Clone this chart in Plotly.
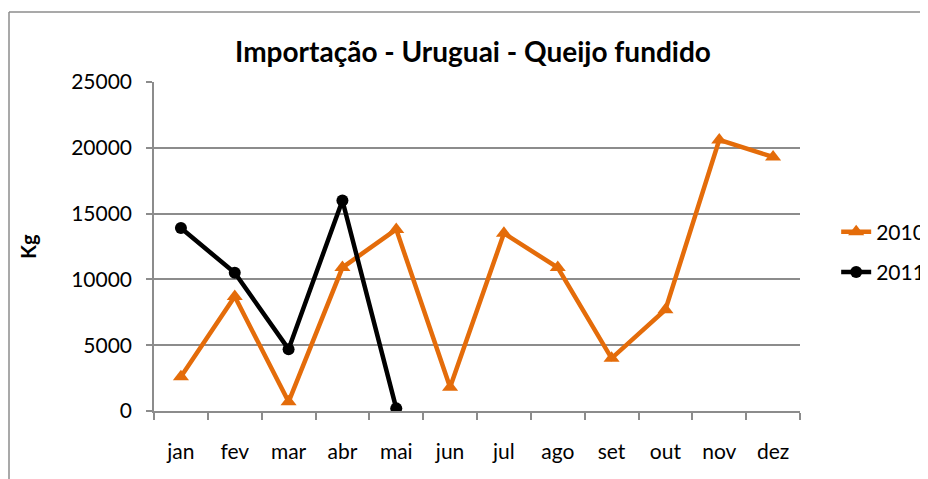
import plotly.graph_objects as go

months = ["jan", "fev", "mar", "abr", "mai", "jun", "jul", "ago", "set", "out", "nov", "dez"]
values_2010 = [2600, 8700, 700, 10900, 13800, 1800, 13500, 10900, 4000, 7700, 20600, 19300]
months_2011 = ["jan", "fev", "mar", "abr", "mai"]
values_2011 = [13900, 10500, 4700, 16000, 200]
y_ticks = [0, 5000, 10000, 15000, 20000, 25000]

FONT = "Lato, 'Open Sans', sans-serif"
GRID = "#8c8c8c"

fig = go.Figure()
fig.add_trace(go.Scatter(
    x=months, y=values_2010, name="2010", mode="lines+markers",
    line=dict(color="#E46C0A", width=4.5),
    marker=dict(symbol="triangle-up", size=14, color="#E46C0A"),
    legendgroup="a",
))
fig.add_trace(go.Scatter(
    x=months_2011, y=values_2011, name="2011", mode="lines+markers",
    line=dict(color="#000000", width=4.5),
    marker=dict(symbol="circle", size=12, color="#000000"),
    legendgroup="b",
))

W, H = 920, 471
L, T, PW, PH = 146, 74, 646, 329
fig.update_layout(
    width=W, height=H,
    margin=dict(l=L, r=W - L - PW, t=T, b=H - T - PH, autoexpand=False),
    paper_bgcolor="white", plot_bgcolor="white",
    font=dict(family=FONT, size=21, color="#000000"),
    title=dict(text="<b>Importação - Uruguai - Queijo fundido</b>",
               x=(465 / W), xanchor="center", y=1 - 44 / H, yanchor="middle",
               font=dict(size=28, family=FONT)),
    legend=dict(x=1.056, y=(T + PH - 244) / PH, xanchor="left", yanchor="middle",
                font=dict(size=21), tracegroupgap=10,
                traceorder="grouped", bgcolor="rgba(0,0,0,0)"),
    showlegend=True,
)
fig.update_xaxes(
    type="category", categoryorder="array", categoryarray=months,
    range=[-0.5, 11.5], showgrid=False, automargin=False,
    showline=True, linecolor=GRID, linewidth=1.5,
    ticks="outside", tickson="boundaries", ticklen=7, tickcolor=GRID, tickwidth=1.5,
    ticklabelstandoff=21,
    tickfont=dict(size=21),
)
fig.update_yaxes(
    range=[0, 25000], tickvals=y_ticks, ticktext=[str(v) for v in y_ticks],
    showgrid=True, gridcolor=GRID, gridwidth=1.5, automargin=False,
    showline=True, linecolor=GRID, linewidth=1.5,
    ticks="outside", ticklen=6, tickcolor=GRID, tickwidth=1.5,
    ticklabelstandoff=10, zeroline=False,
    tickfont=dict(size=21),
    title=dict(text="<b>Kg</b>", standoff=29, font=dict(size=20)),
)
# outer chart border (top and left edges; the rest lies outside the picture)
bx0 = (1 - L) / PW
by1 = (T + PH - 4) / PH
fig.add_shape(type="line", xref="paper", yref="paper",
              x0=bx0, x1=(W + 20 - L) / PW, y0=by1, y1=by1,
              line=dict(color=GRID, width=1.5), layer="below")
fig.add_shape(type="line", xref="paper", yref="paper",
              x0=bx0, x1=bx0, y0=by1, y1=-0.5,
              line=dict(color=GRID, width=1.5), layer="below")

fig.write_html("out.html")
